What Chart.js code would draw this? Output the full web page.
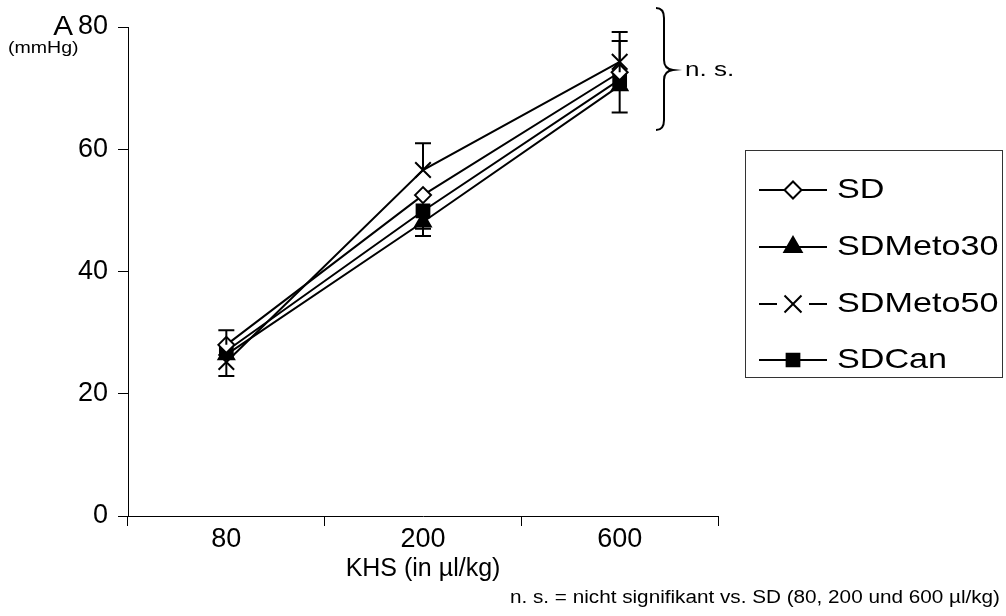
<!DOCTYPE html>
<html lang="de">
<head>
<meta charset="UTF-8">
<title>KHS Dosis-Wirkung</title>
<script src="https://cdn.jsdelivr.net/npm/chart.js"></script>
<style>
    body { margin: 0; background: #fff; }
    canvas { display: block; }
</style>
</head>
<body>
<canvas id="chart" width="1006" height="616"></canvas>
<script>
const doses = ['80', '200', '600'];
const yTicks = [0, 20, 40, 60, 80];
const legendNames = ['SD', 'SDMeto30', 'SDMeto50', 'SDCan'];

const sdValues = [28.0, 52.5, 72.6];
const meto30Values = [26.4, 48.1, 70.4];
const meto50Values = [25.2, 56.6, 74.3];
const canValues = [27.0, 49.9, 71.4];

// only the error bar halves that are visible in the figure (null = none)
const sdErrUp = [2.4, null, 5.1];
const meto30ErrDown = [null, 2.3, 4.4];
const meto50ErrUp = [null, 4.4, 4.9];
const meto50ErrDown = [2.3, null, null];
const canErrDown = [null, 2.9, null];

const FONT = '"Liberation Sans", Arial, sans-serif';

function stretchText(ctx, text, x, y, size, sx, align) {
    ctx.save();
    ctx.font = size + 'px ' + FONT;
    const w = ctx.measureText(text).width * sx;
    const left = align === 'right' ? x - w : align === 'center' ? x - w / 2 : x;
    ctx.translate(left, y);
    ctx.scale(sx, 1);
    ctx.fillStyle = '#000';
    ctx.textAlign = 'left';
    ctx.textBaseline = 'middle';
    ctx.fillText(text, 0, 0);
    ctx.restore();
}

const errorBars = {
    id: 'errorBars',
    afterDatasetsDraw(chart) {
        const ctx = chart.ctx;
        const y = chart.scales.y;
        ctx.save();
        ctx.strokeStyle = '#000';
        ctx.lineWidth = 2;
        chart.data.datasets.forEach((ds, i) => {
            const meta = chart.getDatasetMeta(i);
            meta.data.forEach((pt, j) => {
                [[ds.errUp, 1], [ds.errDown, -1]].forEach(([arr, dir]) => {
                    if (!arr || arr[j] == null) return;
                    const yEnd = y.getPixelForValue(ds.data[j] + dir * arr[j]);
                    ctx.beginPath();
                    ctx.moveTo(pt.x, pt.y);
                    ctx.lineTo(pt.x, yEnd);
                    ctx.moveTo(pt.x - 8, yEnd);
                    ctx.lineTo(pt.x + 8, yEnd);
                    ctx.stroke();
                });
            });
        });
        ctx.restore();
    }
};

const extras = {
    id: 'extras',
    afterDraw(chart) {
        const ctx = chart.ctx;
        // axis unit
        stretchText(ctx, 'A', 73, 28, 27, 1.1, 'right');
        stretchText(ctx, '(mmHg)', 8, 48, 17, 1.15, 'left');

        // brace + n. s.
        ctx.save();
        ctx.strokeStyle = '#000';
        ctx.lineWidth = 2;
        ctx.beginPath();
        ctx.moveTo(656, 8);
        ctx.quadraticCurveTo(664, 8, 664, 18);
        ctx.lineTo(664, 60);
        ctx.quadraticCurveTo(664, 69, 673, 70);
        ctx.quadraticCurveTo(664, 71, 664, 80);
        ctx.lineTo(664, 120);
        ctx.quadraticCurveTo(664, 130, 656, 130);
        ctx.stroke();
        ctx.restore();
        stretchText(ctx, 'n. s.', 685, 70, 20, 1.3, 'left');

        // footnote
        stretchText(ctx, 'n. s. = nicht signifikant vs. SD (80, 200 und 600 \u00b5l/kg)', 1000, 598, 18, 1.15, 'right');

        // legend
        ctx.save();
        ctx.strokeStyle = '#333';
        ctx.lineWidth = 1;
        ctx.strokeRect(745.5, 150.5, 257, 227);
        ctx.restore();
        const rows = [190, 247, 304, 360];
        chart.data.datasets.forEach((ds, i) => {
            const yy = rows[i];
            const gap = ds.pointStyle === 'crossRot' ? 16 : 0;
            ctx.save();
            ctx.strokeStyle = '#000';
            ctx.lineWidth = 2;
            ctx.beginPath();
            ctx.moveTo(759, yy);
            ctx.lineTo(793 - gap, yy);
            ctx.moveTo(793 + gap, yy);
            ctx.lineTo(827, yy);
            ctx.stroke();
            ctx.fillStyle = ds.pointBackgroundColor;
            ctx.strokeStyle = '#000';
            ctx.lineWidth = ds.pointBorderWidth;
            Chart.helpers.drawPoint(ctx, {
                pointStyle: ds.pointStyle,
                radius: ds.legendRadius,
                borderWidth: ds.pointBorderWidth,
                rotation: 0
            }, 793, yy);
            ctx.restore();
            stretchText(ctx, legendNames[i], 837, yy, 28, 1.22, 'left');
        });
    }
};

function series(label, data, style, fill, radius, legendRadius) {
    return {
        label: label,
        data: data,
        borderColor: '#000',
        borderWidth: 2,
        tension: 0,
        pointStyle: style,
        pointRadius: radius,
        legendRadius: legendRadius,
        pointBackgroundColor: fill,
        pointBorderColor: '#000',
        pointBorderWidth: 2
    };
}

const dsSD = series('SD', sdValues, 'rectRot', '#fff', 8, 8.5);
dsSD.errUp = sdErrUp;
const dsMeto30 = series('SDMeto30', meto30Values, 'triangle', '#000', 9, 10);
dsMeto30.errDown = meto30ErrDown;
const dsMeto50 = series('SDMeto50', meto50Values, 'crossRot', '#000', 11, 12);
dsMeto50.errUp = meto50ErrUp;
dsMeto50.errDown = meto50ErrDown;
const dsCan = series('SDCan', canValues, 'rect', '#000', 9, 9);
dsCan.errDown = canErrDown;

new Chart(document.getElementById('chart').getContext('2d'), {
    type: 'line',
    data: {
        labels: doses,
        datasets: [dsSD, dsMeto30, dsMeto50, dsCan]
    },
    options: {
        responsive: false,
        animation: false,
        layout: { padding: { left: 0, right: 288, top: 27, bottom: 0 } },
        plugins: {
            legend: { display: false },
            tooltip: { enabled: false }
        },
        scales: {
            x: {
                offset: true,
                grid: { offset: true, drawOnChartArea: false, color: '#000', tickLength: 10 },
                border: { color: '#000', width: 1 },
                ticks: { color: '#000', font: { size: 27, family: FONT }, padding: -3 },
                title: {
                    display: true,
                    text: 'KHS (in \u00b5l/kg)',
                    color: '#000',
                    font: { size: 25, family: FONT },
                    padding: { top: 0, bottom: 32 }
                },
                afterFit(scale) { scale.height = 100; }
            },
            y: {
                min: 0,
                max: 80,
                grid: { drawOnChartArea: false, color: '#000', tickLength: 10 },
                border: { color: '#000', width: 1 },
                ticks: { color: '#000', font: { size: 27, family: FONT }, padding: 10 },
                afterBuildTicks(scale) { scale.ticks = yTicks.map(v => ({ value: v })); },
                afterFit(scale) { scale.width = 128; }
            }
        }
    },
    plugins: [errorBars, extras]
});
</script>
</body>
</html>
